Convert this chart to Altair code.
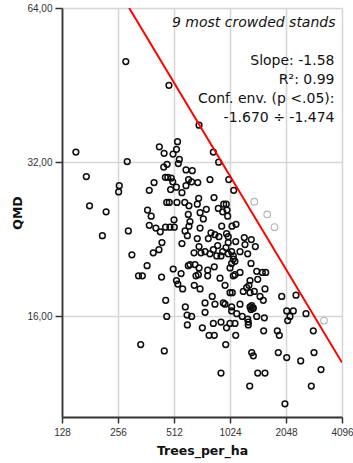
import altair as alt
import pandas as pd

# ---- data ----
trees_per_ha = [
    282, 481, 152, 427, 453, 535, 528, 506, 547, 540, 451, 470, 287, 594, 460, 474, 495, 504,
    594, 613, 400, 377, 260, 258, 491, 527, 565, 173, 180, 221, 369, 386, 468, 483, 531, 585,
    611, 512, 377, 409, 432, 461, 487, 514, 291, 211, 587, 604, 565, 441, 425, 396, 304, 367,
    330, 346, 439, 507, 559, 528, 537, 570, 611, 462, 589, 468, 602, 604, 339, 454,
    698, 833, 890, 1008, 1072, 642, 637, 687, 799, 840, 695, 616, 683, 764, 707, 947, 978, 886,
    987, 935, 995, 736, 616, 707, 924, 1050, 1103, 809, 850, 893, 981, 1002, 1222, 1333, 1401,
    1233, 783, 683, 698, 879, 1002, 1099, 656, 715, 752, 935, 1045, 1159, 974,
    799, 869, 916, 1002, 1067, 1089, 1045, 1275, 624, 664, 698, 777, 843, 1024, 1328, 692, 777,
    905, 1089, 1159, 1425, 1528, 1593, 707, 658, 963, 1067, 1295, 1383, 1259, 1579, 1443, 822,
    1024, 1053, 1207, 1312, 1485, 1546, 752, 850, 943, 963, 1045, 1159, 1312, 1328, 1367, 637,
    752, 1045, 1113, 1192, 1275, 1425, 1566, 727, 833, 916, 981, 1024, 1089, 1284, 1284, 790,
    843, 1099, 1553, 971, 1340, 1367, 916, 1443, 1579, 1307,
    1942, 2318, 2066, 2242, 2152, 2091, 2623, 1839, 1885, 2871, 1862, 2066, 2456, 2896, 3158,
    2802, 2022,
    672, 1312, 1067, 833, 624, 1340, 1355,
]
qmd = [
    50.3, 45.2, 33.5, 34.3, 33.3, 35.1, 33.9, 33.2, 32.4, 31.8, 31.3, 31.7, 32.1, 30.9, 29.9,
    29.9, 29.8, 29.3, 28.8, 29.6, 29.2, 28.2, 28.8, 28.0, 28.3, 28.6, 27.9, 30.0, 26.3, 25.6,
    25.8, 25.1, 26.7, 26.7, 26.7, 26.7, 25.3, 24.7, 24.1, 23.8, 23.4, 23.9, 23.9, 23.9, 23.5,
    23.0, 23.5, 23.0, 22.2, 22.3, 21.6, 21.3, 21.1, 20.1, 19.2, 19.2, 19.1, 19.8, 19.4, 18.8,
    18.5, 18.1, 20.1, 17.2, 16.7, 16.0, 16.1, 15.4, 14.1, 13.7,
    37.8, 33.5, 32.0, 29.6, 28.2, 30.8, 29.3, 29.2, 29.6, 27.3, 27.2, 26.3, 26.5, 25.9, 25.5,
    26.5, 26.5, 26.0, 25.8, 25.6, 25.1, 24.8, 24.0, 23.8, 24.0, 24.0, 24.2, 23.3, 23.1, 22.9,
    23.2, 22.9, 22.8, 22.6, 21.9, 22.1, 22.7, 22.7, 21.9, 22.0, 22.3, 22.4, 21.3, 21.3, 21.4,
    21.4, 21.4, 21.4, 21.8,
    21.2, 21.0, 21.0, 21.2, 21.0, 20.5, 20.3, 21.2, 20.2, 20.2, 19.9, 19.7, 20.0, 19.9, 20.3,
    19.3, 19.2, 19.0, 19.3, 19.5, 19.6, 19.5, 19.5, 18.1, 18.4, 18.4, 19.2, 18.4, 17.9, 18.2,
    18.1, 18.9, 17.5, 17.8, 17.8, 17.9, 17.8, 17.5, 17.2, 17.0, 16.9, 17.0, 16.9, 16.7, 16.9,
    16.7, 16.5, 16.6, 16.0, 16.3, 16.4, 16.2, 16.0, 15.8, 16.0, 15.9, 15.2, 15.5, 15.6, 15.2,
    15.5, 15.5, 15.6, 15.4, 14.7, 14.7, 14.7, 15.0, 14.1, 13.6, 13.4, 12.4, 12.4, 12.4, 11.7,
    17.5, 17.6, 16.4, 16.4, 16.0, 15.7, 16.2, 15.0, 14.7, 15.0, 13.6, 13.3, 13.1, 13.6, 12.6,
    11.7, 10.8,
    19.2, 18.8, 20.7, 21.6, 24.5, 16.8, 16.6,
]
crowded_trees = [1383, 1623, 1776, 3277]
crowded_qmd = [26.8, 25.3, 23.9, 15.7]
fit_trees = [294, 4096]
fit_qmd = [64.0, 13.0]

x_ticks = [128, 256, 512, 1024, 2048, 4096]
y_ticks = [16, 32, 64]
note_title = "9 most crowded stands"
note_lines = ["Slope: -1.58", "R\u00b2: 0.99", "Conf. env. (p <.05):", "-1.670 \u00f7 -1.474"]

points = pd.DataFrame({"trees": trees_per_ha, "qmd": qmd})
crowded = pd.DataFrame({"trees": crowded_trees, "qmd": crowded_qmd})
fit = pd.DataFrame({"trees": fit_trees, "qmd": fit_qmd})

xscale = alt.Scale(type="log", base=2, domain=[128, 4096], nice=False)
yscale = alt.Scale(type="log", base=2, domain=[10.18, 64], nice=False)

xaxis = alt.Axis(
    values=x_ticks, format="d", title="Trees_per_ha",
    titleFont="DejaVu Sans", titleFontWeight="bold", titleFontSize=12.5, titleColor="#111",
    titleBaseline="alphabetic", titleY=37.5, titleX=140, titleAlign="center",
    labelFont="Liberation Sans", labelFontSize=10, labelColor="#333", labelPadding=4,
    tickSize=6, tickColor="#333", tickWidth=1.5, domainColor="#333", domainWidth=1.8,
    grid=True, gridColor="#d6d6d6", gridWidth=1.5, labelFlush=False,
)
yaxis = alt.Axis(
    values=y_ticks, labelExpr="replace(format(datum.value, '.2f'), '.', ',')", title="QMD",
    titleFont="DejaVu Sans", titleFontWeight="bold", titleFontSize=12.5, titleColor="#111",
    titleBaseline="alphabetic", titleAngle=270, titleX=-40.5, titleY=204.5, titleAlign="center",
    labelFont="Liberation Sans", labelFontSize=10, labelColor="#333", labelPadding=3,
    tickSize=7, tickColor="#333", tickWidth=1.5, domainColor="#333", domainWidth=1.8,
    grid=True, gridColor="#d6d6d6", gridWidth=1.5, labelFlush=False,
)

X = alt.X("trees:Q", scale=xscale, axis=xaxis)
Y = alt.Y("qmd:Q", scale=yscale, axis=yaxis)

crowded_layer = alt.Chart(crowded).mark_point(
    shape="circle", filled=False, color="#b4b4b4", size=44, strokeWidth=1.1, opacity=1
).encode(x=X, y=Y)

points_layer = alt.Chart(points).mark_point(
    shape="circle", filled=False, color="#0d0d0d", size=33, strokeWidth=1.5, opacity=1
).encode(x=X, y=Y)

fit_layer = alt.Chart(fit).mark_line(color="#ff0000", strokeWidth=2, clip=True).encode(x=X, y=Y)

text_layers = [
    alt.Chart(pd.DataFrame({"t": [note_title]})).mark_text(
        align="right", baseline="alphabetic", x=273.5, y=18.5, font="DejaVu Sans",
        fontSize=14, fontStyle="italic", color="#111"
    ).encode(text="t:N")
]
for i, line in enumerate(note_lines):
    text_layers.append(
        alt.Chart(pd.DataFrame({"t": [line]})).mark_text(
            align="right", baseline="alphabetic", x=272.5, y=56.5 + 19.2 * i,
            font="DejaVu Sans", fontSize=14, color="#111"
        ).encode(text="t:N")
    )

chart = alt.layer(crowded_layer, points_layer, fit_layer, *text_layers).properties(
    width=280, height=409,
    padding={"left": 62, "top": 8, "right": 11, "bottom": 46},
    autosize=alt.AutoSizeParams(type="none"),
    background="white",
).configure_view(strokeWidth=0)

chart.save("out.html", embed_options={"renderer": "svg", "actions": False})
